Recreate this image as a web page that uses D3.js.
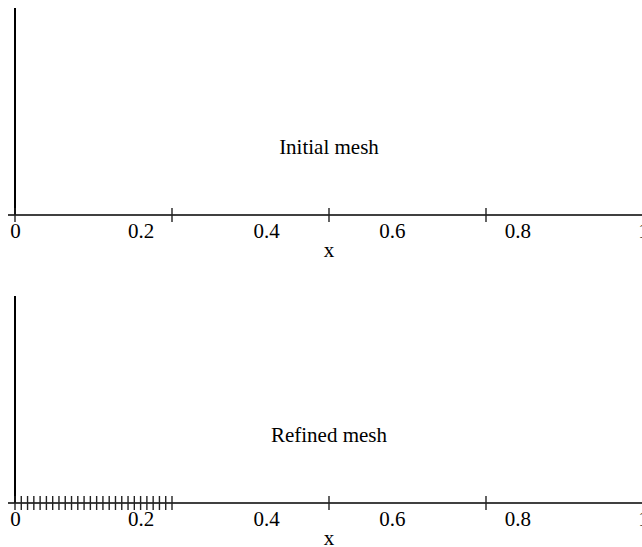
<!DOCTYPE html>
<html>
<head>
<meta charset="utf-8">
<script src="https://cdn.jsdelivr.net/npm/d3@7"></script>
<style>
  html, body { margin: 0; padding: 0; background: #fff; }
  svg { display: block; }
  text { font-family: "Liberation Serif", "DejaVu Serif", serif; fill: #000; }
</style>
</head>
<body>
<script>
// ---- data ----
const tickValues = [0, 0.2, 0.4, 0.6, 0.8, 1];
const tickLabels = ["0", "0.2", "0.4", "0.6", "0.8", "1"];
const initialMesh = [0, 0.25, 0.5, 0.75, 1];
const refinedMesh = [0, 0.01, 0.02, 0.03, 0.04, 0.05, 0.06, 0.07, 0.08, 0.09,
  0.10, 0.11, 0.12, 0.13, 0.14, 0.15, 0.16, 0.17, 0.18, 0.19,
  0.20, 0.21, 0.22, 0.23, 0.24, 0.25, 0.5, 0.75, 1];
const panelTitles = ["Initial mesh", "Refined mesh"];
const xLabel = "x";

// ---- layout ----
const W = 642, H = 547;
const svg = d3.select("body").append("svg").attr("width", W).attr("height", H);
const x = d3.scaleLinear().domain([0, 1]).range([15, 643]);

const panels = [
  { title: panelTitles[0], mesh: initialMesh, axisY: 215, topY: 8 },
  { title: panelTitles[1], mesh: refinedMesh, axisY: 503, topY: 296 }
];

panels.forEach(p => {
  const g = svg.append("g");
  // vertical axis at x=0
  g.append("line")
    .attr("x1", x(0)).attr("x2", x(0))
    .attr("y1", p.topY).attr("y2", p.axisY)
    .attr("stroke", "#000").attr("stroke-width", 2);
  // horizontal axis line
  g.append("line")
    .attr("x1", 8).attr("x2", W)
    .attr("y1", p.axisY).attr("y2", p.axisY)
    .attr("stroke", "#000").attr("stroke-width", 1.6);
  // mesh points as tick marks
  g.selectAll("line.mesh").data(p.mesh).enter().append("line")
    .attr("class", "mesh")
    .attr("x1", d => x(d)).attr("x2", d => x(d))
    .attr("y1", p.axisY - 7).attr("y2", p.axisY + 7)
    .attr("stroke", "#222").attr("stroke-width", 1.4);
  // tick labels via d3 axis
  const ax = d3.axisBottom(x)
    .tickValues(tickValues)
    .tickFormat((d, i) => tickLabels[i])
    .tickSize(0).tickPadding(0);
  const axG = g.append("g").attr("transform", `translate(0,${p.axisY})`).call(ax);
  axG.select(".domain").remove();
  axG.selectAll("text")
    .attr("dy", null).attr("y", 23)
    .style("font-family", '"Liberation Serif", serif')
    .style("font-size", "21px").attr("fill", "#000");
  // x label
  g.append("text")
    .attr("x", x(0.5)).attr("y", p.axisY + 42)
    .attr("text-anchor", "middle")
    .style("font-size", "21px")
    .text(xLabel);
  // panel title
  g.append("text")
    .attr("x", x(0.5)).attr("y", p.axisY - 61)
    .attr("text-anchor", "middle")
    .style("font-size", "21px")
    .text(p.title);
});
</script>
</body>
</html>
